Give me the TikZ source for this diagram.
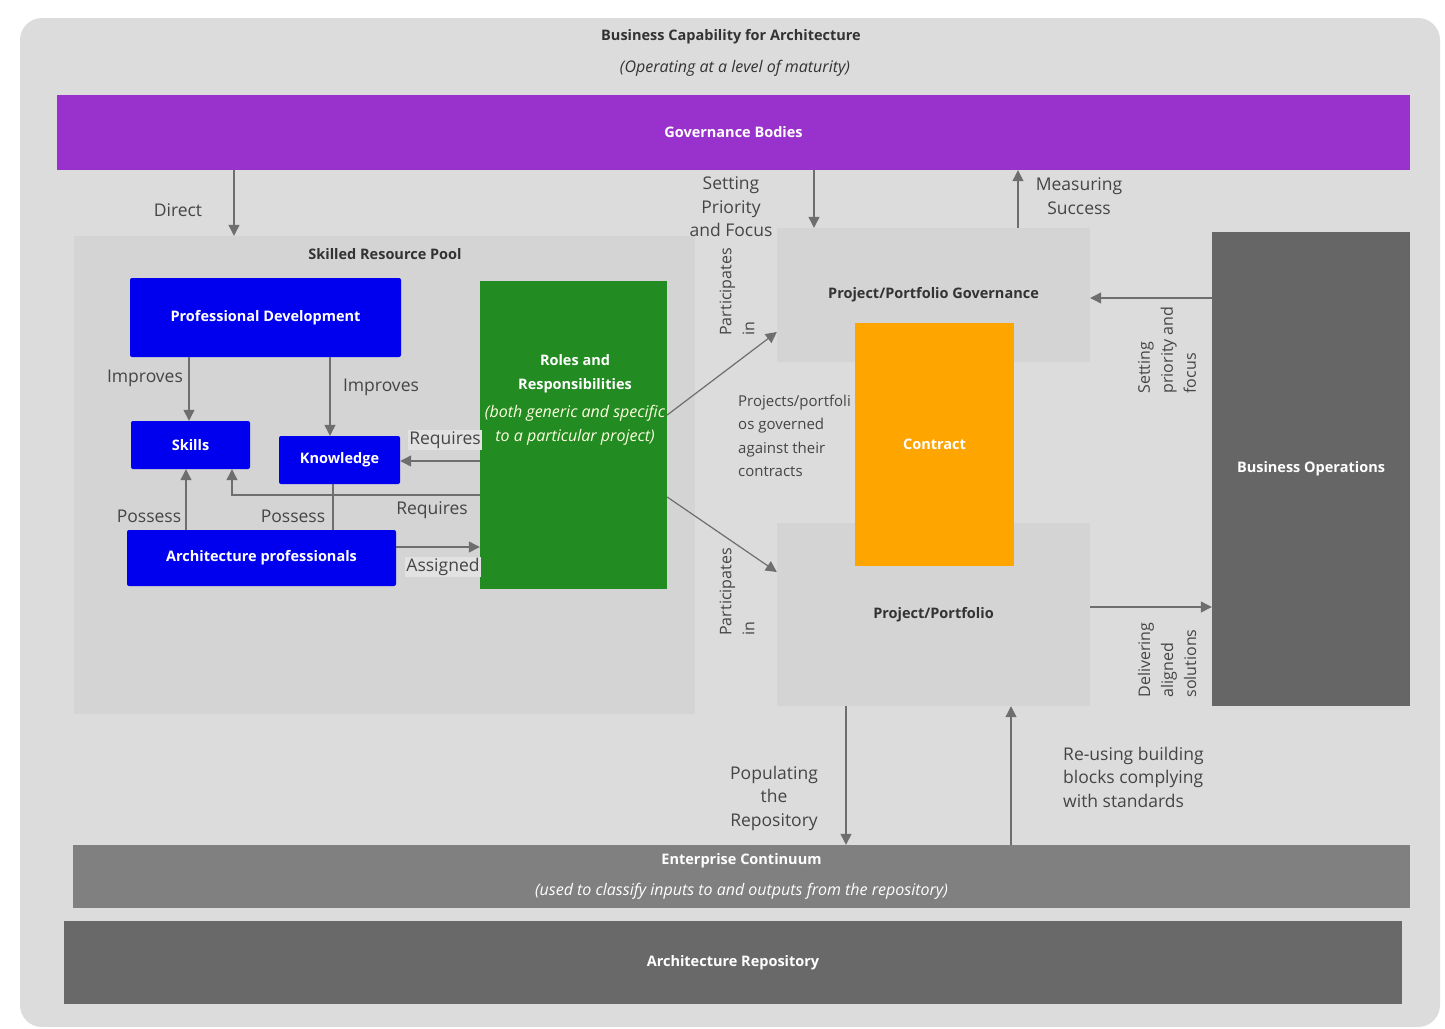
\documentclass[tikz,border=0pt]{standalone}
\usepackage{fontspec}
\setmainfont{Open Sans}
\usetikzlibrary{arrows.meta}

\definecolor{panelgray}{HTML}{DCDCDC}
\definecolor{boxgray}{HTML}{D4D4D4}
\definecolor{govpurple}{HTML}{9932CC}
\definecolor{devblue}{HTML}{0000EE}
\definecolor{rolegreen}{HTML}{228B22}
\definecolor{contractorange}{HTML}{FFA500}
\definecolor{opsgray}{HTML}{666666}
\definecolor{ecgray}{HTML}{808080}
\definecolor{repogray}{HTML}{696969}
\definecolor{linegray}{HTML}{6E6E6E}
\definecolor{lblgray}{HTML}{454545}
\definecolor{ttlgray}{HTML}{333333}
\definecolor{lblbg}{HTML}{E2E2E2}
\definecolor{cream}{HTML}{FFFFE0}

\newcommand{\lblfont}{\fontsize{17.5}{23.5}\selectfont}
\newcommand{\rotfont}{\fontsize{16}{23}\selectfont}
\newcommand{\ttlfont}{\fontsize{14.5}{17}\selectfont\bfseries}
\newcommand{\subfont}{\fontsize{16}{18}\selectfont\itshape}

\tikzset{
  block/.style={rectangle, inner sep=0pt, text=white, font=\ttlfont},
  softbox/.style={rectangle, fill=boxgray, inner sep=0pt, text=ttlgray, font=\ttlfont},
  ttl/.style={text=ttlgray, font=\ttlfont, inner sep=1pt},
  sub/.style={text=ttlgray, font=\subfont, inner sep=1pt},
  lbl/.style={text=lblgray, font=\lblfont, align=center, inner sep=1pt},
  rotlbl/.style={lbl, font=\rotfont, rotate=90, align=left},
  flow/.style={draw=linegray, line width=1.2pt, -{Triangle[length=11pt,width=11pt]}},
  plain/.style={draw=linegray, line width=1.2pt},
}

\begin{document}
\begin{tikzpicture}[x=1pt,y=-1pt]
% page and outer panel
\fill[white] (0,0) rectangle (1445,1028);
\fill[panelgray, rounded corners=22pt] (20,18) rectangle (1440,1027);

\node[ttl] (title) at (731,37) {Business Capability for Architecture};
\node[sub] (subtitle) at (735,68) {(Operating at a level of maturity)};

\node[block, fill=govpurple, minimum width=1353, minimum height=75] (gov) at (733.5,132.5) {Governance Bodies};

% skilled resource pool
\node[softbox, minimum width=621, minimum height=478] (pool) at (384.5,475) {};
\node[ttl] (pooltitle) at (385,254) {Skilled Resource Pool};

\node[block, fill=devblue, rounded corners=2pt, minimum width=271, minimum height=79] (pd) at (265.5,317.5) {Professional Development};
\node[block, fill=devblue, rounded corners=2pt, minimum width=119, minimum height=48] (skills) at (190.5,445) {Skills};
\node[block, fill=devblue, rounded corners=2pt, minimum width=121, minimum height=48] (know) at (339.5,460) {Knowledge};
\node[block, fill=devblue, rounded corners=2pt, minimum width=269, minimum height=56] (archp) at (261.5,558) {Architecture professionals};
\node[block, fill=rolegreen, minimum width=187, minimum height=308] (roles) at (573.5,435) {};
\node[block, align=center, font=\fontsize{14.5}{23.5}\selectfont] (rolestxt) at (575,400)
  {\bfseries Roles and\\\bfseries Responsibilities\\[5pt]\color{cream}\subfont (both generic and specific\\\color{cream}\subfont to a particular project)};

% projects
\node[softbox, minimum width=313, minimum height=134] (ppg) at (933.5,295) {Project/Portfolio Governance};
\node[softbox, minimum width=313, minimum height=183] (pp) at (933.5,614.5) {Project/Portfolio};
\node[block, fill=contractorange, minimum width=159, minimum height=243] (contract) at (934.5,444.5) {Contract};
\node[block, fill=opsgray, minimum width=198, minimum height=474] (bizops) at (1311,469) {Business Operations};

% bottom layers
\node[block, fill=ecgray, align=center, minimum width=1337, minimum height=63] (ec) at (741.5,876.5)
  {Enterprise Continuum\\[14pt]{\subfont\mdseries (used to classify inputs to and outputs from the repository)}};
\node[block, fill=repogray, minimum width=1338, minimum height=83] (repo) at (733,962.5) {Architecture Repository};

% connectors
\draw[flow] (gov.south -| 234,0) -- (pool.north -| 234,0);
\node[lbl] (ldirect) at (178,210) {Direct};
\draw[flow] (pd.south -| 189,0) -- (skills.north -| 189,0);
\node[lbl] (limp1) at (145,378) {Improves};
\draw[flow] (pd.south -| 330,0) -- (know.north -| 330,0);
\node[lbl] (limp2) at (381,387) {Improves};
\draw[flow] (roles.west |- 0,461) -- (know.east |- 0,461);
\node[lbl, fill=lblbg] (lreq1) at (445,440) {Requires};
\draw[flow] (roles.west |- 0,495) -| (skills.south -| 232,0);
\node[lbl] (lreq2) at (432,510) {Requires};
\draw[flow] (archp.north -| 186,0) -- (skills.south -| 186,0);
\node[lbl] (lpos1) at (149,516) {Possess};
\draw[plain] (archp.north -| 333,0) -- (know.south -| 333,0);
\node[lbl] (lpos2) at (293,516) {Possess};
\draw[flow] (archp.east |- 0,547) -- (roles.west |- 0,547);
\node[lbl, fill=lblbg] (lasg) at (443,567) {Assigned};

\draw[flow] (roles.east |- 0,415) -- (ppg.west |- 0,332);
\node[rotlbl] (lpart1) at (737,292) {Participates\\in};
\draw[flow] (roles.east |- 0,497) -- (pp.west |- 0,572);
\node[rotlbl] (lpart2) at (737,592) {Participates\\in};
\node[lbl, font=\fontsize{15}{23.5}\selectfont, align=left, anchor=west] (lgoverned) at (737,436) {Projects/portfoli\\os governed\\against their\\contracts};

\draw[flow] (gov.south -| 814,0) -- (ppg.north -| 814,0);
\node[lbl] (lsetting) at (731,207) {Setting\\Priority\\and Focus};
\draw[flow] (ppg.north -| 1018,0) -- (gov.south -| 1018,0);
\node[lbl] (lmeasure) at (1079,196) {Measuring\\Success};

\draw[flow] (bizops.west |- 0,298) -- (ppg.east |- 0,298);
\node[rotlbl] (lprio) at (1167,350) {Setting\\priority and\\focus};
\draw[flow] (pp.east |- 0,607) -- (bizops.west |- 0,607);
\node[rotlbl] (ldeliver) at (1167,660) {Delivering\\aligned\\solutions};

\draw[flow] (pp.south -| 846,0) -- (ec.north -| 846,0);
\node[lbl] (lpopulate) at (774,798) {Populating\\the\\Repository};
\draw[flow] (ec.north -| 1011,0) -- (pp.south -| 1011,0);
\node[lbl, align=left, anchor=west] (lreuse) at (1062,777) {Re-using building\\blocks complying\\with standards};
\end{tikzpicture}
\end{document}
